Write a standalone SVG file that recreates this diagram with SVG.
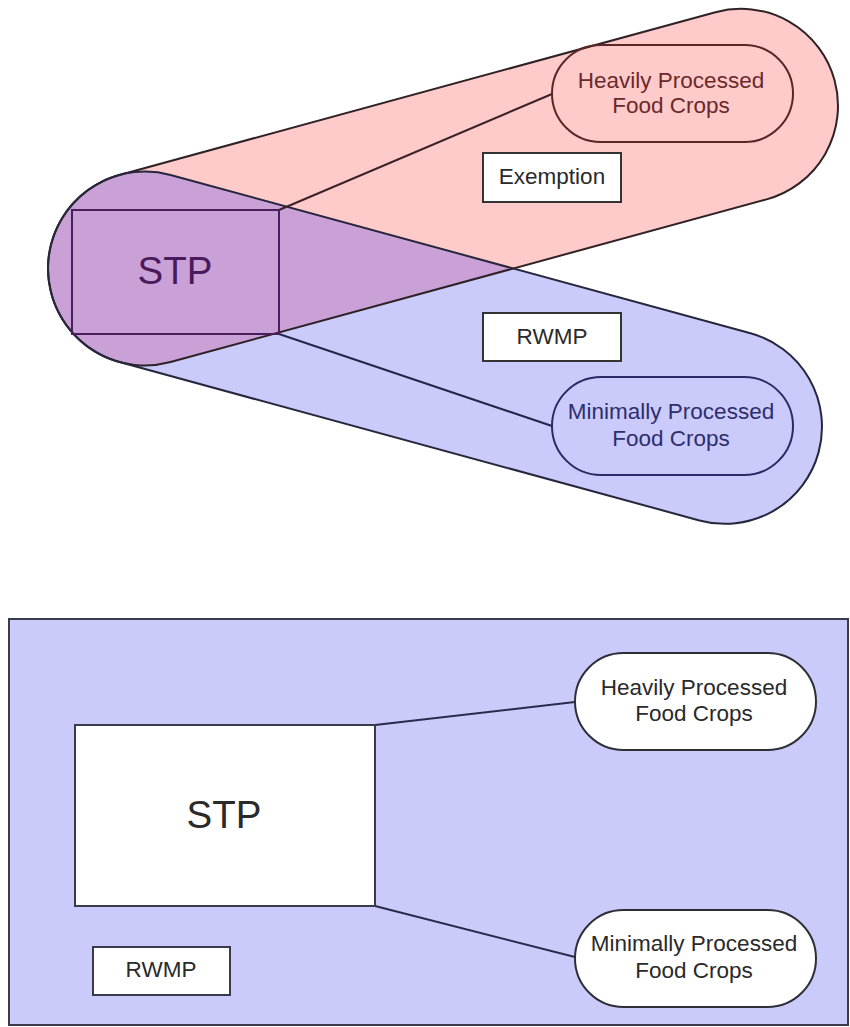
<svg xmlns="http://www.w3.org/2000/svg" width="850" height="1027" viewBox="0 0 850 1027">
  <style>
    text { font-family: "Liberation Sans", Arial, sans-serif; text-anchor: middle; }
    .lbl { font-size: 22.5px; }
    .big { font-size: 38.5px; }
    .box { fill: #ffffff; stroke: #333333; stroke-width: 2; }
    .pinkNode { fill: none; stroke: #5a2626; stroke-width: 2; }
    .blueNode { fill: none; stroke: #2a2a66; stroke-width: 2; }
    .pinkText { fill: #6a2a2a; }
    .blueText { fill: #2e2e6e; }
    .darkText { fill: #2a2a2a; }
    .wire { fill: none; stroke-width: 2; }
  </style>
  <defs>
    <!-- capsule regions: both share the left cap centred at (145,268.5), radius 97 -->
    <rect id="capPink" x="48" y="171.5" width="811.8" height="194" rx="97" ry="97" transform="rotate(-15.27 145 268.5)"/>
    <rect id="capBlue" x="48" y="171.5" width="795.2" height="194" rx="97" ry="97" transform="rotate(15.27 145 268.5)"/>
    <clipPath id="pinkClip">
      <use href="#capPink"/>
    </clipPath>
  </defs>

  <rect x="0" y="0" width="850" height="1027" fill="#ffffff"/>

  <!-- upper diagram: overlapping regions -->
  <g id="region-exemption">
    <use href="#capPink" fill="#ffcaca"/>
  </g>
  <g id="region-rwmp">
    <use href="#capBlue" fill="#cbcbfb"/>
  </g>
  <g id="region-overlap">
    <use href="#capBlue" fill="#c9a1d7" clip-path="url(#pinkClip)"/>
  </g>
  <g id="region-outlines">
    <use href="#capPink" fill="none" stroke="#2e2226" stroke-width="2"/>
    <use href="#capBlue" fill="none" stroke="#26263c" stroke-width="2"/>
  </g>

  <!-- upper diagram: connectors -->
  <g id="connectors-top">
    <line class="wire" x1="279" y1="210" x2="552" y2="94" stroke="#3a2228"/>
    <line class="wire" x1="279" y1="334" x2="552" y2="426" stroke="#26264a"/>
  </g>

  <g id="stp-top">
    <rect x="72" y="210" width="207" height="124" fill="none" stroke="#4a1e5a" stroke-width="2"/>
    <text class="big" x="175" y="284" fill="#4a1a5c">STP</text>
  </g>

  <g id="heavy-top">
    <rect class="pinkNode" x="552" y="45" width="241" height="97" rx="48.5" ry="48.5"/>
    <text class="lbl pinkText" x="671" y="88">Heavily Processed</text>
    <text class="lbl pinkText" x="671" y="113">Food Crops</text>
  </g>

  <g id="exemption-top">
    <rect class="box" x="483" y="153" width="138" height="49"/>
    <text class="lbl darkText" x="552" y="184">Exemption</text>
  </g>

  <g id="rwmp-top">
    <rect class="box" x="483" y="313" width="138" height="48"/>
    <text class="lbl darkText" x="552" y="344">RWMP</text>
  </g>

  <g id="minimal-top">
    <rect class="blueNode" x="552" y="377" width="241" height="98" rx="49" ry="49"/>
    <text class="lbl blueText" x="671" y="419">Minimally Processed</text>
    <text class="lbl blueText" x="671" y="446">Food Crops</text>
  </g>

  <!-- lower diagram -->
  <g id="rwmp-area">
    <rect x="9" y="619" width="839" height="406" fill="#cbcbfb" stroke="#3a3a4c" stroke-width="2"/>
  </g>

  <g id="connectors-bottom">
    <line class="wire" x1="375" y1="725" x2="575" y2="702" stroke="#2a2a4c"/>
    <line class="wire" x1="375" y1="906" x2="575" y2="957" stroke="#2a2a4c"/>
  </g>

  <g id="stp-bottom">
    <rect x="75" y="725" width="300" height="181" fill="#ffffff" stroke="#3a3a4c" stroke-width="2"/>
    <text class="big darkText" x="224" y="828">STP</text>
  </g>

  <g id="rwmp-bottom">
    <rect x="93" y="947" width="137" height="48" fill="#ffffff" stroke="#3a3a4c" stroke-width="2"/>
    <text class="lbl darkText" x="161" y="977">RWMP</text>
  </g>

  <g id="heavy-bottom">
    <rect x="575" y="653" width="241" height="97" rx="48.5" ry="48.5" fill="#ffffff" stroke="#2e2e36" stroke-width="2"/>
    <text class="lbl darkText" x="694" y="695">Heavily Processed</text>
    <text class="lbl darkText" x="694" y="721">Food Crops</text>
  </g>

  <g id="minimal-bottom">
    <rect x="575" y="910" width="241" height="97" rx="48.5" ry="48.5" fill="#ffffff" stroke="#2e2e36" stroke-width="2"/>
    <text class="lbl darkText" x="694" y="951">Minimally Processed</text>
    <text class="lbl darkText" x="694" y="978">Food Crops</text>
  </g>
</svg>
